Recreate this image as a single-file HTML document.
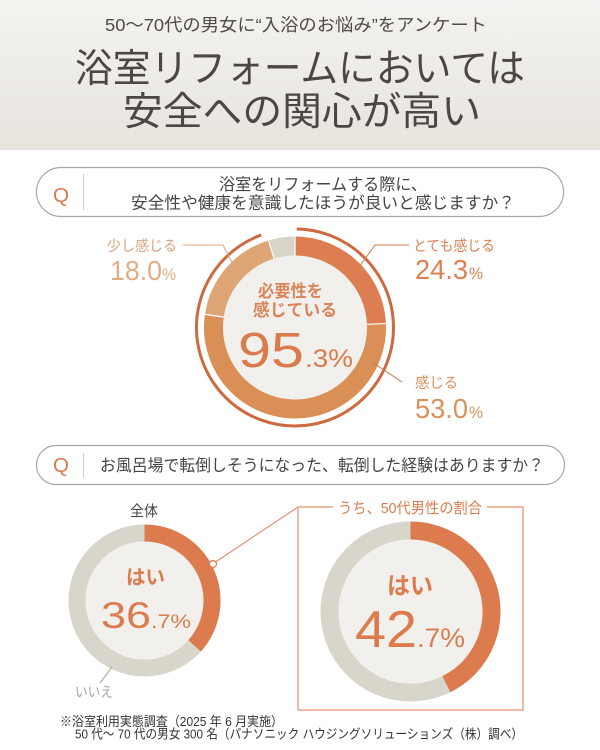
<!DOCTYPE html>
<html>
<head>
<meta charset="utf-8">
<style>
  html,body{margin:0;padding:0;background:#fff;}
  svg{display:block;}
  text{font-family:"Liberation Sans","Noto Sans CJK JP",sans-serif;}
</style>
</head>
<body>
<svg width="600" height="750" viewBox="0 0 600 750" xmlns="http://www.w3.org/2000/svg">
  <defs>
    <linearGradient id="hdr" x1="0" y1="0" x2="0" y2="1">
      <stop offset="0" stop-color="#f4f3f0"/>
      <stop offset="1" stop-color="#e7e4de"/>
    </linearGradient>
  </defs>
  <rect x="0" y="0" width="600" height="750" fill="#ffffff"/>
  <!-- Header -->
  <rect x="0" y="0" width="600" height="150" fill="url(#hdr)"/>
  <text x="105" y="31" font-size="17.5" fill="#4d4a47" textLength="382" lengthAdjust="spacingAndGlyphs">50〜70代の男女に“入浴のお悩み”をアンケート</text>
  <text x="75" y="82" font-size="39" fill="#4a4745" textLength="450" lengthAdjust="spacingAndGlyphs">浴室リフォームにおいては</text>
  <text x="123" y="125" font-size="39" fill="#4a4745" textLength="358" lengthAdjust="spacingAndGlyphs">安全への関心が高い</text>

  <!-- Q box 1 -->
  <rect x="36.5" y="167.5" width="527" height="49" rx="24.5" ry="24.5" fill="#fff" stroke="#a8a8a8" stroke-width="1.2"/>
  <text x="53" y="202" font-size="20" fill="#d97a4c" textLength="16" lengthAdjust="spacingAndGlyphs">Q</text>
  <line x1="83.5" y1="174" x2="83.5" y2="210" stroke="#cfcfcf" stroke-width="1"/>
  <text x="219" y="190" font-size="16.5" fill="#444" textLength="208" lengthAdjust="spacingAndGlyphs">浴室をリフォームする際に、</text>
  <text x="131" y="208.5" font-size="16.5" fill="#444" textLength="384" lengthAdjust="spacingAndGlyphs">安全性や健康を意識したほうが良いと感じますか？</text>

  <!-- Donut 1 -->
  <path d="M296.72,229.02 A98.5,98.5 0 1 1 261.31,234.94" fill="none" stroke="#cd6b40" stroke-width="3"/>
  <circle cx="295" cy="327.5" r="72" fill="#f1f0ec"/>
  <path d="M295,246 A81.5,81.5 0 0 1 376.42,323.92" fill="none" stroke="#dd7e52" stroke-width="19"/>
  <path d="M376.42,323.92 A81.5,81.5 0 1 1 214.35,315.76" fill="none" stroke="#d98f55" stroke-width="19"/>
  <path d="M214.35,315.76 A81.5,81.5 0 0 1 271.28,249.53" fill="none" stroke="#dea676" stroke-width="19"/>
  <path d="M271.28,249.53 A81.5,81.5 0 0 1 295,246" fill="none" stroke="#d8d4c9" stroke-width="19"/>
  <line x1="295" y1="236" x2="295" y2="256" stroke="#fff" stroke-width="1.2"/>
  <line x1="385.91" y1="323.5" x2="366.93" y2="324.33" stroke="#fff" stroke-width="1.2"/>
  <line x1="204.95" y1="314.4" x2="223.75" y2="317.13" stroke="#fff" stroke-width="1.2"/>
  <line x1="268.52" y1="240.44" x2="274.05" y2="258.62" stroke="#fff" stroke-width="1.2"/>

  <text x="258" y="297" font-size="17" font-weight="bold" fill="#d9845a" textLength="65" lengthAdjust="spacingAndGlyphs">必要性を</text>
  <text x="253" y="316" font-size="17" font-weight="bold" fill="#d9845a" textLength="84" lengthAdjust="spacingAndGlyphs">感じている</text>
  <text x="238" y="367" font-size="49" fill="#d97b4d" textLength="66" lengthAdjust="spacingAndGlyphs">95</text>
  <text x="305" y="367" font-size="25" fill="#d97b4d" textLength="48" lengthAdjust="spacingAndGlyphs">.3%</text>

  <!-- leader lines -->
  <polyline points="183,245 223,245 237,272" fill="none" stroke="#dca57c" stroke-width="1"/>
  <polyline points="409,245 375,245 357,270" fill="none" stroke="#d87a4e" stroke-width="1"/>
  <line x1="372" y1="362" x2="402" y2="382" stroke="#c8784c" stroke-width="1"/>

  <!-- labels -->
  <text x="107" y="251" font-size="14.5" fill="#dba47b" textLength="70" lengthAdjust="spacingAndGlyphs">少し感じる</text>
  <text x="110" y="280" font-size="28" fill="#e0ae86" textLength="52" lengthAdjust="spacingAndGlyphs">18.0</text>
  <text x="162" y="280" font-size="17" fill="#e0ae86" textLength="14" lengthAdjust="spacingAndGlyphs">%</text>

  <text x="413" y="251" font-size="14.5" fill="#dd7f53" textLength="82" lengthAdjust="spacingAndGlyphs">とても感じる</text>
  <text x="415" y="279" font-size="28" fill="#dd7f53" textLength="53" lengthAdjust="spacingAndGlyphs">24.3</text>
  <text x="469" y="279" font-size="17" fill="#dd7f53" textLength="14" lengthAdjust="spacingAndGlyphs">%</text>

  <text x="415" y="388" font-size="14.5" fill="#d9915a" textLength="43" lengthAdjust="spacingAndGlyphs">感じる</text>
  <text x="415" y="418" font-size="28" fill="#d9925c" textLength="53" lengthAdjust="spacingAndGlyphs">53.0</text>
  <text x="469" y="418" font-size="17" fill="#d9925c" textLength="14" lengthAdjust="spacingAndGlyphs">%</text>

  <!-- Q box 2 -->
  <rect x="36.5" y="445.5" width="528" height="39" rx="19.5" ry="19.5" fill="#fff" stroke="#a8a8a8" stroke-width="1.2"/>
  <text x="53" y="472" font-size="20" fill="#d97a4c" textLength="16" lengthAdjust="spacingAndGlyphs">Q</text>
  <line x1="83.5" y1="453" x2="83.5" y2="478" stroke="#cfcfcf" stroke-width="1"/>
  <text x="100" y="471" font-size="16.5" fill="#444" textLength="444" lengthAdjust="spacingAndGlyphs">お風呂場で転倒しそうになった、転倒した経験はありますか？</text>

  <!-- left donut -->
  <text x="130" y="516" font-size="15" fill="#444" textLength="28" lengthAdjust="spacingAndGlyphs">全体</text>
  <circle cx="144.5" cy="600.5" r="67.5" fill="none" stroke="#d8d5ca" stroke-width="17"/>
  <circle cx="144.5" cy="600.5" r="59" fill="#f1f0ec"/>
  <path d="M144.5,533 A67.5,67.5 0 0 1 194.56,645.77" fill="none" stroke="#dc7c4e" stroke-width="17"/>
  <text x="126" y="584" font-size="20" font-weight="bold" fill="#dc7c4e" textLength="39" lengthAdjust="spacingAndGlyphs">はい</text>
  <text x="101" y="628" font-size="37" fill="#dc7c4e" textLength="50" lengthAdjust="spacingAndGlyphs">36</text>
  <text x="151" y="628" font-size="19" fill="#dc7c4e" textLength="40" lengthAdjust="spacingAndGlyphs">.7%</text>
  <line x1="112" y1="667" x2="100" y2="683" stroke="#a09c90" stroke-width="1"/>
  <text x="75" y="697" font-size="14" fill="#aaa69a" textLength="38" lengthAdjust="spacingAndGlyphs">いいえ</text>

  <!-- connector -->
  <line x1="215.5" y1="562" x2="298" y2="507" stroke="#e09070" stroke-width="1.2"/>
  <circle cx="213" cy="564" r="3.5" fill="#fff" stroke="#dc7c4e" stroke-width="1.2"/>

  <!-- right box -->
  <polyline points="333,507 298,507 298,710 523,710 523,507 487,507" fill="none" stroke="#e9a585" stroke-width="1.5"/>
  <text x="338" y="513" font-size="15" fill="#dc7c4e" textLength="144" lengthAdjust="spacingAndGlyphs">うち、50代男性の割合</text>

  <!-- right donut -->
  <circle cx="410.5" cy="611.5" r="81" fill="none" stroke="#d8d5ca" stroke-width="18"/>
  <circle cx="410.5" cy="611.5" r="72" fill="#f1f0ec"/>
  <path d="M410.5,530.5 A81,81 0 0 1 446.37,684.13" fill="none" stroke="#dc7c4e" stroke-width="18"/>
  <text x="387" y="594" font-size="24" font-weight="bold" fill="#dc7c4e" textLength="46" lengthAdjust="spacingAndGlyphs">はい</text>
  <text x="355" y="647" font-size="52" fill="#dc7c4e" textLength="62" lengthAdjust="spacingAndGlyphs">42</text>
  <text x="417" y="647" font-size="27" fill="#dc7c4e" textLength="48" lengthAdjust="spacingAndGlyphs">.7%</text>

  <!-- footnote -->
  <text x="60" y="726" font-size="13" fill="#333" textLength="223" lengthAdjust="spacingAndGlyphs">※浴室利用実態調査（2025 年 6 月実施）</text>
  <text x="75" y="738.5" font-size="13" fill="#333" textLength="448" lengthAdjust="spacingAndGlyphs">50 代〜 70 代の男女 300 名（パナソニック ハウジングソリューションズ（株）調べ）</text>
</svg>
</body>
</html>
